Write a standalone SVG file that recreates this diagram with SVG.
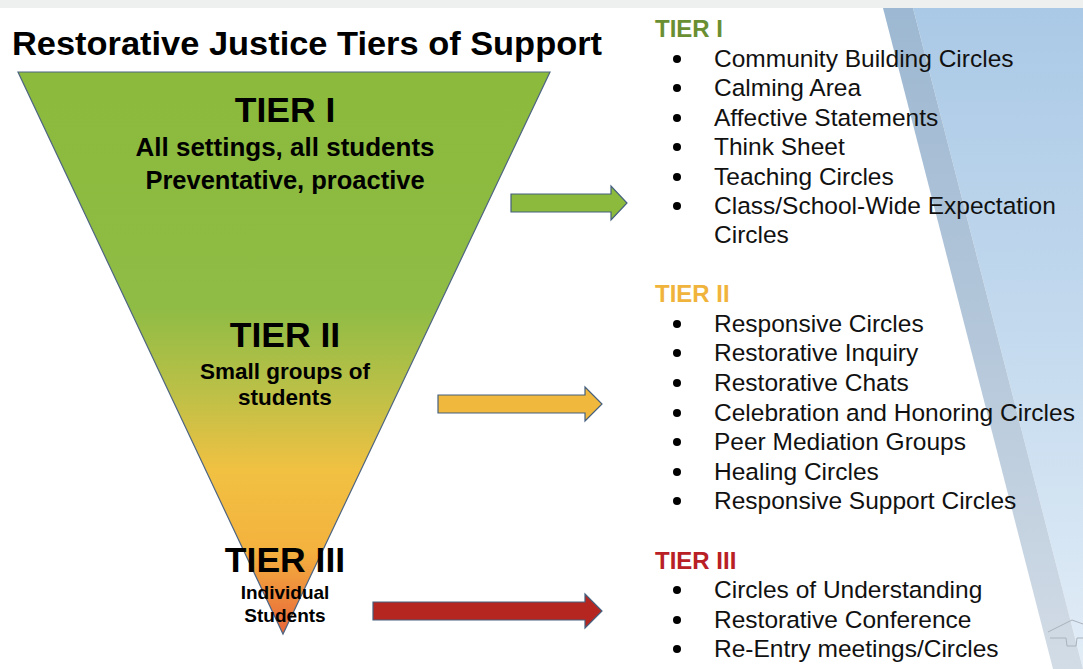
<svg xmlns="http://www.w3.org/2000/svg" width="1083" height="669" viewBox="0 0 1083 669">
  <defs>
    <linearGradient id="pyramidFill" x1="0" y1="0" x2="0" y2="1">
      <stop offset="0" stop-color="#8bba3c"/>
      <stop offset="0.42" stop-color="#8fbc45"/>
      <stop offset="0.57" stop-color="#bcc047"/>
      <stop offset="0.71" stop-color="#f1c142"/>
      <stop offset="0.85" stop-color="#f4b23e"/>
      <stop offset="1" stop-color="#e8663a"/>
    </linearGradient>
    <linearGradient id="panelFill" x1="0" y1="0" x2="0" y2="1">
      <stop offset="0" stop-color="#aac9e6"/>
      <stop offset="0.5" stop-color="#c4daee"/>
      <stop offset="1" stop-color="#e2edf7"/>
    </linearGradient>
    <linearGradient id="stripeFill" x1="0" y1="0" x2="0" y2="1">
      <stop offset="0" stop-color="#9db8d2"/>
      <stop offset="0.5" stop-color="#b4c7da"/>
      <stop offset="1" stop-color="#d2dce6"/>
    </linearGradient>
    <style>
      .title { font-family: "Liberation Sans", Arial, sans-serif; font-weight: bold; font-size: 34px; fill: #000; }
      .tier { font-family: "Liberation Sans", Arial, sans-serif; font-weight: bold; font-size: 35.5px; fill: #000; text-anchor: middle; }
      .sub { font-family: "Liberation Sans", Arial, sans-serif; font-weight: bold; fill: #000; text-anchor: middle; }
      .head { font-family: "Liberation Sans", Arial, sans-serif; font-weight: bold; font-size: 24px; }
      .item { font-family: "Liberation Sans", Arial, sans-serif; font-size: 24.5px; fill: #111; }
      .dot { fill: #000; }
      .arrow { stroke: #45607f; stroke-width: 1.2; stroke-linejoin: miter; }
    </style>
  </defs>

  <!-- page background -->
  <rect x="0" y="0" width="1083" height="669" fill="#ffffff"/>
  <rect x="0" y="0" width="1083" height="8" fill="#eef0f0"/>

  <!-- decorative slanted panel on the right -->
  <g id="panel">
    <polygon points="913,8 1083,8 1083,669" fill="url(#panelFill)"/>
    <polygon points="883,8 913,8 1083,669 1053,669" fill="url(#stripeFill)"/>
    <polyline points="1048,632 1072,620 1083,624" fill="none" stroke="#aab3bc" stroke-width="1"/>
    <polyline points="1050,638 1066,638 1067,646 1076,646 1077,638 1083,638" fill="none" stroke="#aab3bc" stroke-width="1"/>
  </g>

  <!-- title -->
  <text class="title" x="12" y="55" textLength="590" lengthAdjust="spacingAndGlyphs">Restorative Justice Tiers of Support</text>

  <!-- inverted pyramid -->
  <g id="pyramid">
    <polygon points="18,72 550,72 283,634" fill="url(#pyramidFill)" stroke="#4e6582" stroke-width="1.2"/>
  </g>

  <g id="tier1">
    <text class="tier" x="285" y="122">TIER I</text>
    <text class="sub" x="285" y="156" font-size="26">All settings, all students</text>
    <text class="sub" x="285" y="189" font-size="25.5">Preventative, proactive</text>
  </g>

  <g id="tier2">
    <text class="tier" x="285" y="347">TIER II</text>
    <text class="sub" x="285" y="379" font-size="22.5">Small groups of</text>
    <text class="sub" x="285" y="405" font-size="22.5">students</text>
  </g>

  <g id="tier3">
    <text class="tier" x="285" y="572">TIER III</text>
    <text class="sub" x="285" y="599" font-size="19">Individual</text>
    <text class="sub" x="285" y="622" font-size="19">Students</text>
  </g>

  <!-- connectors: block arrows from each tier to its list -->
  <g id="connectors">
    <polygon class="arrow" fill="#8cba3c" points="511,194 611,194 611,186 627,203 611,220 611,212 511,212"/>
    <polygon class="arrow" fill="#f0b83c" points="438,395 585,395 585,387 602,404 585,421 585,413 438,413"/>
    <polygon class="arrow" fill="#b52620" points="373,602 585,602 585,594 602,611 585,628 585,620 373,620"/>
  </g>

  <!-- tier I list -->
  <g id="list1">
    <text class="head" x="655" y="37" fill="#6a8f32">TIER I</text>
    <circle class="dot" cx="677" cy="59" r="4"/>
    <text class="item" x="714" y="67">Community Building Circles</text>
    <circle class="dot" cx="677" cy="88" r="4"/>
    <text class="item" x="714" y="96">Calming Area</text>
    <circle class="dot" cx="677" cy="118" r="4"/>
    <text class="item" x="714" y="126">Affective Statements</text>
    <circle class="dot" cx="677" cy="147" r="4"/>
    <text class="item" x="714" y="155">Think Sheet</text>
    <circle class="dot" cx="677" cy="177" r="4"/>
    <text class="item" x="714" y="185">Teaching Circles</text>
    <circle class="dot" cx="677" cy="206" r="4"/>
    <text class="item" x="714" y="214">Class/School-Wide Expectation</text>
    <text class="item" x="714" y="243">Circles</text>
  </g>

  <!-- tier II list -->
  <g id="list2">
    <text class="head" x="655" y="302" fill="#f0b43c">TIER II</text>
    <circle class="dot" cx="677" cy="324" r="4"/>
    <text class="item" x="714" y="332">Responsive Circles</text>
    <circle class="dot" cx="677" cy="353" r="4"/>
    <text class="item" x="714" y="361">Restorative Inquiry</text>
    <circle class="dot" cx="677" cy="383" r="4"/>
    <text class="item" x="714" y="391">Restorative Chats</text>
    <circle class="dot" cx="677" cy="413" r="4"/>
    <text class="item" x="714" y="421">Celebration and Honoring Circles</text>
    <circle class="dot" cx="677" cy="442" r="4"/>
    <text class="item" x="714" y="450">Peer Mediation Groups</text>
    <circle class="dot" cx="677" cy="472" r="4"/>
    <text class="item" x="714" y="480">Healing Circles</text>
    <circle class="dot" cx="677" cy="501" r="4"/>
    <text class="item" x="714" y="509">Responsive Support Circles</text>
  </g>

  <!-- tier III list -->
  <g id="list3">
    <text class="head" x="655" y="569" fill="#b82025">TIER III</text>
    <circle class="dot" cx="677" cy="590" r="4"/>
    <text class="item" x="714" y="598">Circles of Understanding</text>
    <circle class="dot" cx="677" cy="620" r="4"/>
    <text class="item" x="714" y="628">Restorative Conference</text>
    <circle class="dot" cx="677" cy="649" r="4"/>
    <text class="item" x="714" y="657">Re-Entry meetings/Circles</text>
  </g>
</svg>
